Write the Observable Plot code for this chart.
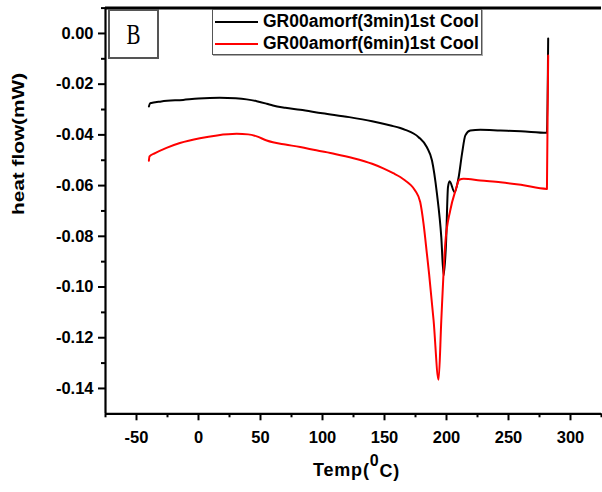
<!DOCTYPE html>
<html>
<head>
<meta charset="utf-8">
<script src="https://cdn.jsdelivr.net/npm/d3@7"></script>
<script src="https://cdn.jsdelivr.net/npm/@observablehq/plot@0.6"></script>
<style>
  html, body { margin: 0; padding: 0; background: #fff; }
  #wrap { position: relative; width: 602px; height: 492px; font-family: "Liberation Sans", Arial, sans-serif; }
  #wrap svg text { font-family: "Liberation Sans", Arial, sans-serif !important; font-weight: bold !important; fill: #000; }
  #legend { position: absolute; left: 212px; top: 9px; width: 268px; height: 44px; border: 1px solid #555; box-shadow: 1px 1px 0 #aaa; background: #fff; }
  .sw { position: absolute; left: 2px; width: 43px; height: 0; border-top: 2px solid; }
  .lt { position: absolute; left: 50px; font-weight: bold; font-size: 17.5px; white-space: nowrap; line-height: 1; }
  #boxB { position: absolute; left: 108px; top: 9px; width: 47px; height: 46px; border: 2px solid #555; background: #fff; }
  #boxB span { position: absolute; left: 0; width: 47px; top: 6px; text-align: center; font-family: "Liberation Serif", "Times New Roman", serif; font-size: 21px; transform: scaleY(1.4); transform-origin: 50% 0; }
</style>
</head>
<body>
<div id="wrap"></div>
<script>
// ---- data ----
const series3Name = "GR00amorf(3min)1st Cool";
const series6Name = "GR00amorf(6min)1st Cool";

const temp3 = [-40, -39, -30, -12.4, 0, 17, 30, 38.8, 47, 55, 60, 70, 82, 100, 121.5, 140, 155, 162.7, 166.7, 177.5, 184.2, 188.3, 192.3, 195.8, 197.7, 199.6, 201.2, 202.5, 206.5, 209.8, 212.5, 215.2, 219.2, 227.3, 243.5, 260, 281, 282];
const flow3 = [-0.0288, -0.0275, -0.0268, -0.0262, -0.0257, -0.0254, -0.0256, -0.0260, -0.0267, -0.0277, -0.0284, -0.0293, -0.0301, -0.0315, -0.0330, -0.0346, -0.0363, -0.0373, -0.0380, -0.0409, -0.0449, -0.0501, -0.0632, -0.0803, -0.0955, -0.0830, -0.0606, -0.0583, -0.0626, -0.0567, -0.0475, -0.0402, -0.0383, -0.0380, -0.0383, -0.0386, -0.0392, -0.0020];

const temp6 = [-40, -39.5, -35, -25.8, -15, 1.1, 15, 30.8, 40, 47, 55, 60, 70, 82, 95, 110, 125, 140, 149, 157, 162.7, 166.7, 170.8, 174.8, 178.8, 181.5, 184.2, 186, 189.6, 193.6, 195.8, 197.7, 199, 203, 207.3, 210.3, 213.8, 227.3, 243.5, 260, 281, 282];
const flow6 = [-0.0502, -0.0485, -0.0472, -0.0451, -0.0432, -0.0413, -0.0402, -0.0396, -0.0398, -0.0406, -0.0422, -0.0429, -0.0438, -0.0448, -0.0461, -0.0475, -0.0492, -0.0514, -0.0532, -0.0551, -0.0566, -0.0580, -0.0596, -0.0620, -0.0665, -0.0751, -0.0869, -0.0950, -0.1132, -0.1366, -0.1132, -0.0935, -0.0830, -0.0698, -0.0619, -0.0577, -0.0573, -0.0580, -0.0587, -0.0597, -0.0613, -0.0087];

const xMajorTicks = [-50, 0, 50, 100, 150, 200, 250, 300];
const xMinorTicks = [-75, -25, 25, 75, 125, 175, 225, 275, 325];
const yMajorTicks = [0, -0.02, -0.04, -0.06, -0.08, -0.10, -0.12, -0.14];
const yMinorTicks = [0.01, -0.01, -0.03, -0.05, -0.07, -0.09, -0.11, -0.13];
const xDomain = [-75, 325];
const yDomain = [-0.15, 0.01];
const xTitle = "Temp(0C)";
const yTitle = "heat flow(mW)";
const panelLetter = "B";

const rows3 = temp3.map((t, i) => ({t, v: flow3[i]}));
const rows6 = temp6.map((t, i) => ({t, v: flow6[i]}));

const chart = Plot.plot({
  width: 602,
  height: 492,
  marginLeft: 105,
  marginRight: 1,
  marginTop: 7.6,
  marginBottom: 78.7,
  style: {fontFamily: "Liberation Sans, Arial, sans-serif", fontSize: "16px", fontWeight: "bold", color: "black", background: "white"},
  x: {domain: xDomain, axis: null},
  y: {domain: yDomain, axis: null},
  marks: [
    Plot.axisX({ticks: xMajorTicks, tickSize: 7, tickPadding: 10, tickFormat: d => String(d), fontSize: 16.5, strokeWidth: 2, label: null}),
    Plot.axisX({ticks: xMinorTicks, tickSize: 4, tickFormat: () => "", strokeWidth: 2, label: null}),
    Plot.axisY({ticks: yMajorTicks, tickSize: 7, tickPadding: 5, tickFormat: d => d.toFixed(2), fontSize: 16.5, strokeWidth: 2, label: null}),
    Plot.axisY({ticks: yMinorTicks, tickSize: 4, tickFormat: () => "", strokeWidth: 2, label: null}),
    Plot.ruleY([yDomain[0]], {strokeWidth: 2.2}),
    Plot.ruleY([yDomain[1]], {strokeWidth: 3}),
    Plot.ruleX([xDomain[0]], {strokeWidth: 2.2}),
    Plot.line(rows3, {x: "t", y: "v", stroke: "black", strokeWidth: 2, curve: "monotone-x"}),
    Plot.line(rows6, {x: "t", y: "v", stroke: "#ff0000", strokeWidth: 2, curve: "monotone-x"}),
    Plot.text([yTitle], {frameAnchor: "left", dx: -87, dy: 4, rotate: -90, fontSize: 17}),
    Plot.text([xTitle], {frameAnchor: "bottom", dx: 3, dy: 62, fontSize: 18})
  ]
});

const wrap = document.getElementById("wrap");
wrap.appendChild(chart);

// stretch y title & build superscript in x title
d3.select(chart).selectAll("text").each(function() {
  if (this.textContent === yTitle) {
    this.setAttribute("textLength", 142);
    this.setAttribute("lengthAdjust", "spacingAndGlyphs");
  }
  if (this.textContent === xTitle) {
    const t = d3.select(this);
    t.text(null);
    t.append("tspan").text("Temp(");
    t.append("tspan").attr("dy", "-0.6em").attr("font-size", "16px").text("0");
    t.append("tspan").attr("dy", "0.6em").text("C)");
    t.attr("letter-spacing", "0.8px");
  }
});

// legend
const legend = document.createElement("div");
legend.id = "legend";
[[series3Name, "black", 12], [series6Name, "#ff0000", 34]].forEach(([name, color, y]) => {
  const sw = document.createElement("div");
  sw.className = "sw";
  sw.style.borderTopColor = color;
  sw.style.top = (y - 1) + "px";
  legend.appendChild(sw);
  const lt = document.createElement("div");
  lt.className = "lt";
  lt.style.top = (y - 9) + "px";
  lt.textContent = name;
  legend.appendChild(lt);
});
wrap.appendChild(legend);

const boxB = document.createElement("div");
boxB.id = "boxB";
const bs = document.createElement("span");
bs.textContent = panelLetter;
boxB.appendChild(bs);
wrap.appendChild(boxB);
</script>
</body>
</html>
